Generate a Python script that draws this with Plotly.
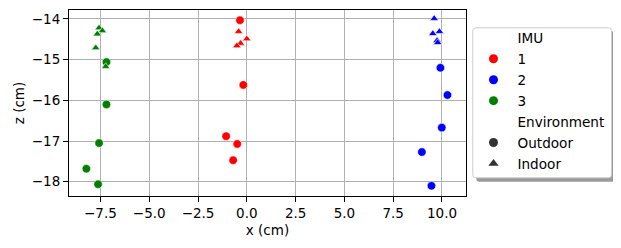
import plotly.graph_objects as go

# ---- data (cm) ----
imu_labels = ["1", "2", "3"]
imu_colors = ["#ff0000", "#0000ff", "#008000"]

x_imu1_out = [-0.35, -0.18, -1.06, -0.49, -0.70]
z_imu1_out = [-14.03, -15.62, -16.88, -17.07, -17.47]
x_imu1_in = [-0.42, 0.00, -0.32, -0.51]
z_imu1_in = [-14.31, -14.49, -14.60, -14.66]

x_imu2_out = [9.92, 10.28, 9.99, 8.97, 9.46]
z_imu2_out = [-15.20, -15.87, -16.67, -17.27, -18.10]
x_imu2_in = [9.60, 9.53, 9.87, 9.75, 9.78]
z_imu2_in = [-13.99, -14.36, -14.31, -14.53, -14.58]

x_imu3_out = [-7.19, -7.19, -7.57, -8.22, -7.62]
z_imu3_out = [-15.06, -16.10, -17.05, -17.68, -18.06]
x_imu3_in = [-7.57, -7.40, -7.66, -7.74, -7.23]
z_imu3_in = [-14.22, -14.29, -14.37, -14.71, -15.17]

x_ticks = [-7.5, -5.0, -2.5, 0.0, 2.5, 5.0, 7.5, 10.0]
z_ticks = [-14, -15, -16, -17, -18]
env_labels = ["Outdoor", "Indoor"]

FONT = "DejaVu Sans"
OFF = 8  # default page body margin
W, H = 621 - OFF, 248 - OFF
# plot area in page pixels
L, R, T, B = 69.3, 465.7, 10.0, 196.0
PW, PH = R - L, B - T

def px(x):
    return (x - L) / PW

def py(y):
    return (B - y) / PH

fig = go.Figure()

series = [
    (x_imu1_out, z_imu1_out, x_imu1_in, z_imu1_in),
    (x_imu2_out, z_imu2_out, x_imu2_in, z_imu2_in),
    (x_imu3_out, z_imu3_out, x_imu3_in, z_imu3_in),
]
for (xo, zo, xi, zi), col in zip(series, imu_colors):
    fig.add_trace(go.Scatter(x=xo, y=zo, mode="markers", showlegend=False,
                             cliponaxis=False,
                             marker=dict(symbol="circle", size=8.5, color=col,
                                         line=dict(color="white", width=0.6))))
    fig.add_trace(go.Scatter(x=xi, y=zi, mode="markers", showlegend=False,
                             cliponaxis=False,
                             marker=dict(symbol="triangle-up", size=7.5, color=col,
                                         line=dict(color="white", width=0.6))))

# legend entries (each in its own group so the group gap adds row spacing)
def header(name):
    fig.add_trace(go.Scatter(x=[None], y=[None], mode="markers", name=name,
                             legendgroup=name,
                             marker=dict(color="rgba(0,0,0,0)", size=1,
                                         line=dict(width=0))))

header("IMU")
for lab, col in zip(imu_labels, imu_colors):
    fig.add_trace(go.Scatter(x=[None], y=[None], mode="markers", name=lab,
                             legendgroup="imu" + lab,
                             marker=dict(symbol="circle", size=9, color=col)))
header("Environment")
for lab, sym in zip(env_labels, ["circle", "triangle-up"]):
    fig.add_trace(go.Scatter(x=[None], y=[None], mode="markers", name=lab,
                             legendgroup=lab,
                             marker=dict(symbol=sym, size=9, color="#333333")))

# legend frame with shadow
def rounded(x0, y0, x1, y1, r):
    return (f"M {px(x0 + r)},{py(y0)} L {px(x1 - r)},{py(y0)} "
            f"Q {px(x1)},{py(y0)} {px(x1)},{py(y0 + r)} "
            f"L {px(x1)},{py(y1 - r)} Q {px(x1)},{py(y1)} {px(x1 - r)},{py(y1)} "
            f"L {px(x0 + r)},{py(y1)} Q {px(x0)},{py(y1)} {px(x0)},{py(y1 - r)} "
            f"L {px(x0)},{py(y0 + r)} Q {px(x0)},{py(y0)} {px(x0 + r)},{py(y0)} Z")

shapes = [
    dict(type="path", xref="paper", yref="paper", layer="above",
         path=rounded(476.0, 31.5, 615.0, 181.7, 3), fillcolor="#9a9a9a",
         line=dict(width=0)),
    dict(type="path", xref="paper", yref="paper", layer="above",
         path=rounded(472.5, 27.8, 611.0, 177.8, 3), fillcolor="white",
         line=dict(color="#cccccc", width=1)),
]

fig.update_layout(
    width=W, height=H,
    margin=dict(l=L - OFF, r=W - (R - OFF), t=T - OFF, b=H - (B - OFF),
                pad=0, autoexpand=False),
    paper_bgcolor="white", plot_bgcolor="white",
    font=dict(family=FONT, size=13, color="black"),
    shapes=shapes,
    showlegend=True,
    legend=dict(xref="container", yref="container",
                x=(469.5 - OFF) / W, y=1 - (22.5 - OFF) / H,
                xanchor="left", yanchor="top",
                bgcolor="rgba(0,0,0,0)", borderwidth=0,
                itemwidth=38, maxheight=220,
                font=dict(family=FONT, size=13.6, color="black"),
                tracegroupgap=0.25, itemsizing="trace"),
)
fig.update_xaxes(range=[-9.11, 11.23], tickvals=x_ticks, tickformat=".1f",
                 automargin=False,
                 showgrid=True, gridcolor="#b0b0b0", gridwidth=0.8,
                 showline=True, linecolor="black", linewidth=1, mirror=True,
                 ticks="outside", ticklen=5, tickcolor="black", zeroline=False,
                 title=dict(text="x (cm)", standoff=5,
                            font=dict(family=FONT, size=13.5)),
                 tickfont=dict(family=FONT, size=13.5))
fig.update_yaxes(range=[-18.35, -13.78], tickvals=z_ticks,
                 automargin=False,
                 showgrid=True, gridcolor="#b0b0b0", gridwidth=0.8,
                 showline=True, linecolor="black", linewidth=1, mirror=True,
                 ticks="outside", ticklen=5, tickcolor="black", zeroline=False,
                 title=dict(text="z (cm)", standoff=4,
                            font=dict(family=FONT, size=13.5)),
                 tickfont=dict(family=FONT, size=13.5))

fig.write_html("out.html")
